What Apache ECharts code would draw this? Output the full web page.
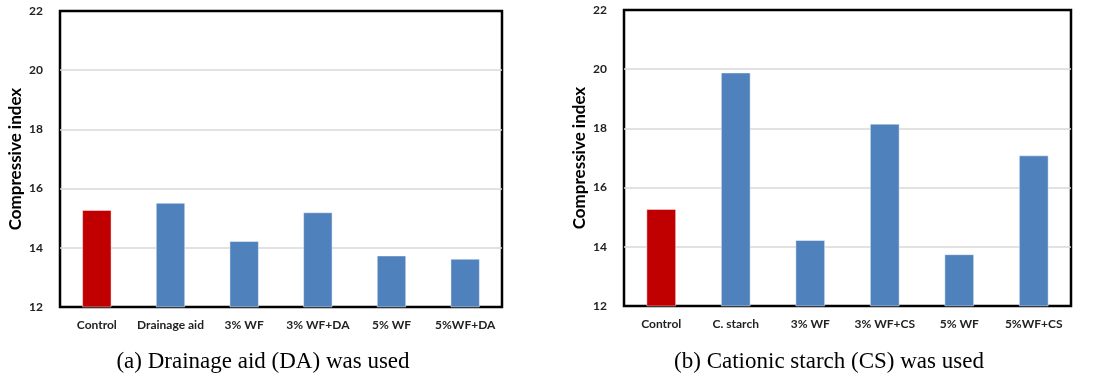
<!DOCTYPE html>
<html>
<head>
<meta charset="utf-8">
<title>Compressive index</title>
<script src="https://cdn.jsdelivr.net/npm/echarts@6/dist/echarts.min.js"></script>
<style>
    html, body { margin: 0; padding: 0; background: #fff; }
    #main { width: 1095px; height: 377px; }
</style>
</head>
<body>
<div id="main"></div>
<script>
// 数据
var catsA = ["Control", "Drainage aid", "3% WF", "3% WF+DA", "5% WF", "5%WF+DA"];
var valsA = [15.28, 15.52, 14.23, 15.2, 13.74, 13.63];
var catsB = ["Control", "C. starch", "3% WF", "3% WF+CS", "5% WF", "5%WF+CS"];
var valsB = [15.28, 19.89, 14.23, 18.16, 13.75, 17.09];
var yTicks = [12, 14, 16, 18, 20, 22];
var captions = ["(a) Drainage aid (DA) was used", "(b) Cationic starch (CS) was used"];

(function () {
    var myChart = echarts.init(document.getElementById('main'));
    var red = "#c00000", blue = "#4f81bd";
    var labelFont = "Lato, 'Open Sans', sans-serif";

    // 第一个柱子红色, 其余蓝色
    function barData(vals) {
        return vals.map(function (v, i) {
            return { value: v, itemStyle: { color: i === 0 ? red : blue } };
        });
    }

    function xAxisOf(cats, idx) {
        return {
            type: 'category',
            gridIndex: idx,
            data: cats,
            axisLine: { show: false },
            axisTick: { show: false },
            axisLabel: {
                color: "#222",
                fontSize: 12,
                fontWeight: 'bold',
                fontFamily: labelFont,
                margin: 12,
                interval: 0
            }
        };
    }

    function yAxisOf(idx) {
        return {
            type: 'value',
            gridIndex: idx,
            min: yTicks[0],
            max: yTicks[yTicks.length - 1],
            interval: 2,
            name: 'Compressive index',
            nameLocation: 'middle',
            nameGap: 36,
            nameTextStyle: {
                color: "#000",
                fontSize: 17,
                fontWeight: 'bold',
                fontFamily: labelFont
            },
            axisLine: { show: false },
            axisTick: { show: false },
            axisLabel: {
                color: "#222",
                fontSize: 12,
                fontWeight: 'bold',
                fontFamily: labelFont,
                margin: 17
            },
            // 边框处不画网格线
            splitLine: {
                showMinLine: false,
                showMaxLine: false,
                lineStyle: { color: "#d9d9d9", width: 1.5 }
            }
        };
    }

    function seriesOf(vals, idx) {
        return {
            type: 'bar',
            xAxisIndex: idx,
            yAxisIndex: idx,
            barWidth: '40%',
            data: barData(vals),
            itemStyle: { borderColor: 'rgba(255,255,255,0.45)', borderWidth: 1 },
            silent: true
        };
    }

    var capStyle = { fontFamily: "'Liberation Serif', serif", fontSize: 23, fontWeight: 'normal', color: "#000" };

    var option = {
        animation: false,
        title: [{
            text: captions[0],
            left: 258,
            top: 345,
            textAlign: 'center',
            textStyle: capStyle
        }, {
            text: captions[1],
            left: 824,
            top: 345,
            textAlign: 'center',
            textStyle: capStyle
        }],
        grid: [{
            left: 60, top: 11, width: 442, height: 296,
            show: true, borderColor: "#000", borderWidth: 2.5, backgroundColor: "#fff"
        }, {
            left: 624, top: 10, width: 447, height: 296,
            show: true, borderColor: "#000", borderWidth: 2.5, backgroundColor: "#fff"
        }],
        xAxis: [xAxisOf(catsA, 0), xAxisOf(catsB, 1)],
        yAxis: [yAxisOf(0), yAxisOf(1)],
        series: [seriesOf(valsA, 0), seriesOf(valsB, 1)]
    };
    myChart.setOption(option);
    window.addEventListener('resize', function () {
        myChart.resize();
    });
})();
</script>
</body>
</html>
